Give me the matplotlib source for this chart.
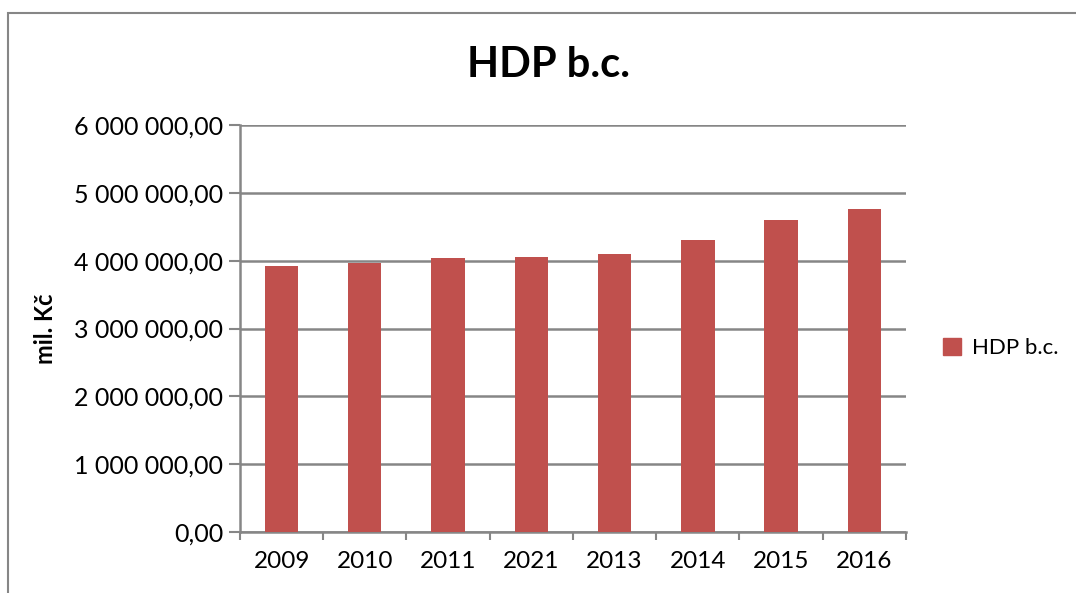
import matplotlib
matplotlib.use('agg')
import matplotlib.pyplot as plt
import matplotlib.ticker as mticker
from matplotlib.patches import Rectangle, Patch
import numpy as np

years = ['2009', '2010', '2011', '2021', '2013', '2014', '2015', '2016']
hdp = [3926000, 3960000, 4033000, 4053000, 4093000, 4310000, 4596000, 4770000]
yticks = [0, 1000000, 2000000, 3000000, 4000000, 5000000, 6000000]

plt.rcParams['font.family'] = ['Lato', 'DejaVu Sans']

fig = plt.figure(figsize=(10.76, 5.93), dpi=100)
ax = fig.add_axes([0.223, 0.103, 0.619, 0.686])

x = np.arange(len(years))
ax.bar(x, hdp, width=0.4, color='#C0504D', zorder=3, label='HDP b.c.')

ax.set_xlim(-0.5, len(years) - 0.5)
ax.set_ylim(0, 6000000)

def fmt(v, pos):
    s = '{:,.2f}'.format(v)
    return s.replace(',', ' ').replace('.', ',')

ax.yaxis.set_major_locator(mticker.FixedLocator(yticks))
ax.yaxis.set_major_formatter(mticker.FuncFormatter(fmt))
ax.set_xticks(x)
ax.set_xticklabels(years)
ax.set_xticks(np.arange(-0.5, len(years)), minor=True)
ax.tick_params(axis='x', which='major', length=0, labelsize=17.5, pad=14)
ax.tick_params(axis='x', which='minor', length=6, color='#868686', width=1.5, direction='out')
ax.tick_params(axis='y', length=8, color='#868686', width=1.5, labelsize=18, pad=4)

ax.grid(axis='y', color='#868686', linewidth=1.8, zorder=0)
for s in ['top', 'right']:
    ax.spines[s].set_visible(False)
for s in ['left', 'bottom']:
    ax.spines[s].set_color('#868686')
    ax.spines[s].set_linewidth(1.8)

ax.set_ylabel('mil. Kč', fontsize=17, fontweight='bold', labelpad=12)
fig.text(0.51, 0.89, 'HDP b.c.', ha='center', va='center', fontsize=30, fontweight='bold')

fig.legend(handles=[Patch(color='#C0504D', label='HDP b.c.')], loc='center left',
           bbox_to_anchor=(0.858, 0.413), frameon=False, fontsize=16,
           handlelength=0.8, handleheight=0.8, handletextpad=0.5)

# outer chart frame
fig.add_artist(Rectangle((8 / 1076, -0.1), 1.2, 1 - 13 / 593 + 0.1, transform=fig.transFigure,
                         fill=False, edgecolor='#868686', linewidth=1.5))

plt.savefig('out.png', dpi=100)
plt.close(fig)
